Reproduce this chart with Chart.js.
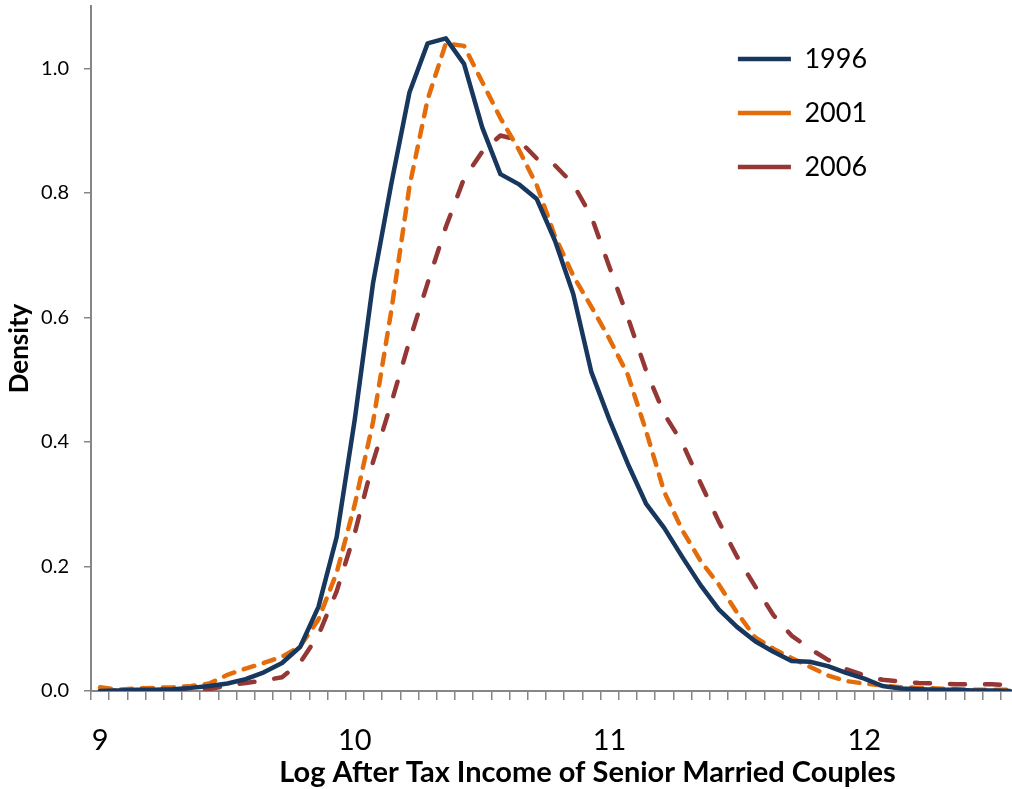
<!DOCTYPE html>
<html>
<head>
<meta charset="utf-8">
<title>Density of log after tax income</title>
<script src="https://cdn.jsdelivr.net/npm/chart.js@4.4.1/dist/chart.umd.min.js"></script>
<style>
  html, body { margin: 0; padding: 0; overflow: hidden; background: #fff; }
  #wrap { width: 1019px; height: 789px; position: relative; }
</style>
</head>
<body>
<div id="wrap"><canvas id="densityChart"></canvas></div>
<script>
// x categories: log after tax income, steps of 1/14
var logIncome = [
  9.00, 9.07, 9.14, 9.21, 9.29, 9.36, 9.43, 9.50, 9.57, 9.64, 9.71, 9.79, 9.86, 9.93,
  10.00, 10.07, 10.14, 10.21, 10.29, 10.36, 10.43, 10.50, 10.57, 10.64, 10.71, 10.79, 10.86, 10.93,
  11.00, 11.07, 11.14, 11.21, 11.29, 11.36, 11.43, 11.50, 11.57, 11.64, 11.71, 11.79, 11.86, 11.93,
  12.00, 12.07, 12.14, 12.21, 12.29, 12.36, 12.43, 12.50, 12.57
];
var tickLabels = ['9', '10', '11', '12'];
var densityTicks = ['0.0', '0.2', '0.4', '0.6', '0.8', '1.0'];

var density1996 = [
  0.000, 0.001, 0.002, 0.002, 0.003, 0.005, 0.008, 0.012, 0.019, 0.030, 0.045, 0.071, 0.135, 0.247,
  0.437, 0.655, 0.814, 0.961, 1.040, 1.048, 1.007, 0.905, 0.830, 0.814, 0.790, 0.723, 0.638, 0.512,
  0.435, 0.365, 0.301, 0.262, 0.215, 0.170, 0.131, 0.103, 0.080, 0.063, 0.048, 0.047, 0.040, 0.029,
  0.020, 0.008, 0.004, 0.003, 0.002, 0.002, 0.001, 0.001, 0.000
];
var density2001 = [
  0.006, 0.002, 0.004, 0.005, 0.006, 0.008, 0.012, 0.026, 0.036, 0.045, 0.055, 0.072, 0.115, 0.190,
  0.300, 0.432, 0.610, 0.810, 0.950, 1.040, 1.036, 0.978, 0.920, 0.870, 0.812, 0.730, 0.667, 0.617,
  0.565, 0.508, 0.418, 0.320, 0.258, 0.209, 0.171, 0.126, 0.086, 0.068, 0.053, 0.039, 0.025, 0.016,
  0.012, 0.009, 0.006, 0.005, 0.004, 0.003, 0.002, 0.002, 0.002
];
var density2006 = [
  0.001, 0.001, 0.001, 0.002, 0.002, 0.002, 0.003, 0.009, 0.013, 0.017, 0.022, 0.046, 0.090, 0.160,
  0.254, 0.368, 0.462, 0.562, 0.655, 0.745, 0.823, 0.866, 0.892, 0.885, 0.855, 0.844, 0.814, 0.762,
  0.680, 0.600, 0.515, 0.445, 0.398, 0.334, 0.272, 0.216, 0.168, 0.122, 0.089, 0.068, 0.050, 0.035,
  0.025, 0.018, 0.015, 0.013, 0.012, 0.011, 0.011, 0.011, 0.009
];

var xTitle = 'Log After Tax Income of Senior Married Couples';
var yTitle = 'Density';
var axisGray = '#868686';

Chart.defaults.font.family = 'Lato';
Chart.defaults.color = '#000';

// draw the x axis title a bit right of centre, like the original
var xTitlePlugin = {
  id: 'xTitle',
  afterDraw: function(chart) {
    var ctx = chart.ctx;
    var area = chart.chartArea;
    ctx.save();
    ctx.font = 'bold 29px Lato';
    ctx.fillStyle = '#000';
    ctx.textAlign = 'center';
    ctx.textBaseline = 'middle';
    ctx.fillText(xTitle, area.left + area.width * 0.535, chart.height - 16);
    ctx.restore();
  }
};

// move the legend to the upper right of the plot area
var legendPlacer = {
  id: 'legendPlacer',
  afterLayout: function(chart) {
    var lg = chart.legend;
    var area = chart.chartArea;
    lg.left = area.left + area.width * 0.668;
    lg.right = lg.left + lg.width;
    lg.top = area.top + 12.5;
    lg.bottom = lg.top + lg.height;
  }
};

// fixed axis sizes, no extra label margins
function fixAxis(size) {
  return function(scale) {
    if (scale.isHorizontal()) {
      scale.height = size;
    } else {
      scale.width = size;
    }
    scale.paddingTop = 0;
    scale.paddingBottom = 0;
    scale.paddingLeft = 0;
    scale.paddingRight = 0;
  };
}

var ctx = document.getElementById('densityChart').getContext('2d');
var chart = new Chart(ctx, {
  type: 'line',
  data: {
    labels: logIncome,
    datasets: [{
      label: '1996',
      data: density1996,
      borderColor: '#17375E',
      backgroundColor: '#17375E',
      borderWidth: 4.5,
      borderCapStyle: 'round',
      borderJoinStyle: 'round',
      pointRadius: 0,
      tension: 0,
      fill: false
    },
    {
      label: '2001',
      data: density2001,
      borderColor: '#E46C0A',
      backgroundColor: '#E46C0A',
      borderWidth: 4.5,
      borderDash: [11, 10],
      borderCapStyle: 'round',
      borderJoinStyle: 'round',
      pointRadius: 0,
      tension: 0,
      fill: false
    },
    {
      label: '2006',
      data: density2006,
      borderColor: '#953735',
      backgroundColor: '#953735',
      borderWidth: 4.5,
      borderDash: [15, 20],
      borderCapStyle: 'round',
      borderJoinStyle: 'round',
      pointRadius: 0,
      tension: 0,
      fill: false
    }]
  },
  options: {
    responsive: true,
    maintainAspectRatio: false,
    animation: false,
    layout: {
      padding: { left: 0, right: 0, top: 6, bottom: 31 }
    },
    plugins: {
      legend: {
        position: 'chartArea',
        fullSize: false,
        align: 'start',
        labels: {
          usePointStyle: true,
          pointStyle: 'line',
          pointStyleWidth: 53,
          padding: 27,
          color: '#000',
          font: { size: 27 }
        }
      },
      tooltip: { enabled: false }
    },
    scales: {
      x: {
        type: 'category',
        offset: true,
        afterFit: fixAxis(67),
        grid: {
          offset: true,
          drawOnChartArea: false,
          drawTicks: true,
          tickLength: 9,
          color: axisGray,
          lineWidth: 1.5
        },
        border: { display: true, color: axisGray, width: 2 },
        ticks: {
          autoSkip: false,
          maxRotation: 0,
          padding: 23,
          color: '#000',
          font: { size: 29 },
          callback: function(value) {
            var lbl = String(this.getLabelForValue(value));
            return tickLabels.indexOf(lbl) >= 0 ? lbl : '';
          }
        }
      },
      y: {
        min: 0,
        max: 1.1,
        afterFit: fixAxis(91),
        grid: {
          drawOnChartArea: false,
          drawTicks: true,
          tickLength: 7,
          color: axisGray,
          lineWidth: 1.5
        },
        border: { display: true, color: axisGray, width: 2 },
        ticks: {
          stepSize: 0.2,
          includeBounds: false,
          padding: 15,
          color: '#000',
          font: { size: 20 },
          callback: function(value) {
            var lbl = value.toFixed(1);
            return densityTicks.indexOf(lbl) >= 0 ? lbl : '';
          }
        },
        title: {
          display: true,
          text: yTitle,
          color: '#000',
          font: { size: 26, weight: 'bold' },
          padding: { top: 4, bottom: 4 }
        }
      }
    }
  },
  plugins: [legendPlacer, xTitlePlugin]
});
</script>
</body>
</html>
